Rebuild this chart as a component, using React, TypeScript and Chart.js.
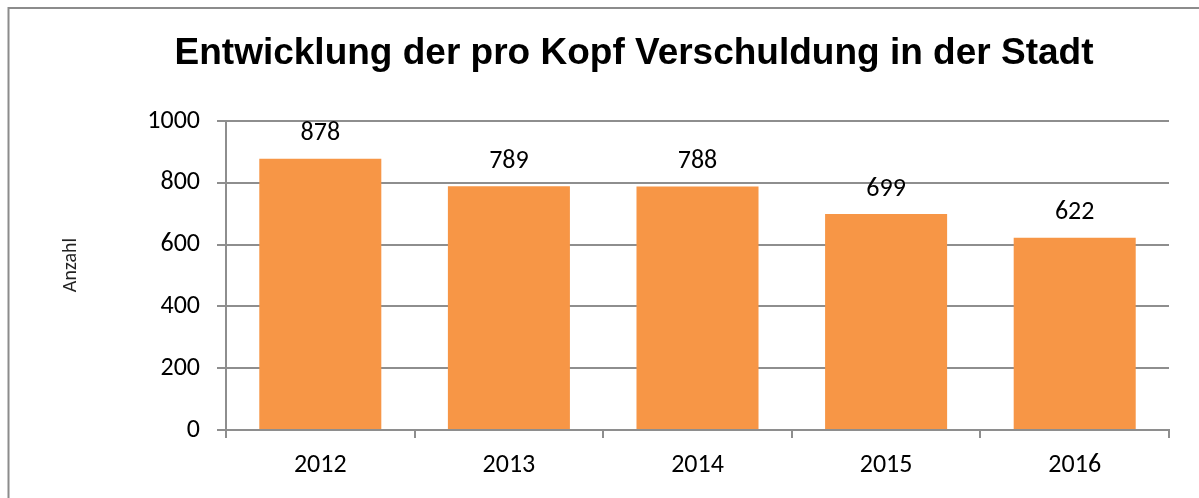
import React, { useEffect, useRef } from "react";
import { Chart, registerables } from "chart.js";

Chart.register(...registerables);

const TITLE = "Entwicklung der pro Kopf Verschuldung in der Stadt";
const Y_TITLE = "Anzahl";
const YEARS = ["2012", "2013", "2014", "2015", "2016"];
const DEBT = [878, 789, 788, 699, 622];
const Y_MIN = 0;
const Y_MAX = 1000;
const Y_STEP = 200;

const BAR_COLOR = "#F79646";
const GRID_COLOR = "#8e8e8e";
const LABEL_FONT = "Calibri, Carlito, 'Open Sans', sans-serif";

const framePlugin = {
  id: "frame",
  beforeDraw(chart: any) {
    const ctx = chart.ctx;
    ctx.save();
    ctx.fillStyle = "#ffffff";
    ctx.fillRect(0, 0, chart.width, chart.height);
    ctx.strokeStyle = "#8c8c8c";
    ctx.lineWidth = 2;
    ctx.strokeRect(8.5, 8, 1400, 800);
    ctx.restore();
  },
};

const textPlugin = {
  id: "texts",
  afterDraw(chart: any) {
    const ctx = chart.ctx;
    ctx.save();
    // title
    ctx.fillStyle = "#000000";
    ctx.font = "bold 37px 'Liberation Sans', Arial, sans-serif";
    ctx.textAlign = "center";
    ctx.textBaseline = "alphabetic";
    ctx.fillText(TITLE, 634, 64);
    // y axis title
    ctx.save();
    ctx.translate(71, 265);
    ctx.rotate(-Math.PI / 2);
    ctx.font = `20px ${LABEL_FONT}`;
    ctx.fillStyle = "#222222";
    ctx.textBaseline = "middle";
    ctx.fillText(Y_TITLE, 0, 0);
    ctx.restore();
    // data labels
    const meta = chart.getDatasetMeta(0);
    ctx.font = `26px ${LABEL_FONT}`;
    ctx.textBaseline = "middle";
    meta.data.forEach((bar: any, i: number) => {
      ctx.fillText(String(DEBT[i]), bar.x, bar.y - 25);
    });
    ctx.restore();
  },
};

export default function App() {
  const ref = useRef<HTMLCanvasElement>(null);
  useEffect(() => {
    if (!ref.current) return;
    const chart = new Chart(ref.current, {
      type: "bar",
      data: {
        labels: YEARS,
        datasets: [
          {
            data: DEBT,
            backgroundColor: BAR_COLOR,
            borderWidth: 0,
            categoryPercentage: 1,
            barPercentage: 0.647,
          },
        ],
      },
      options: {
        responsive: false,
        animation: false,
        layout: { padding: { left: 8, right: 30, top: 121, bottom: 0 } },
        plugins: {
          legend: { display: false },
          title: { display: false },
          tooltip: { enabled: false },
        },
        scales: {
          x: {
            grid: {
              offset: true,
              drawOnChartArea: false,
              drawTicks: true,
              tickLength: 8,
              color: GRID_COLOR,
              lineWidth: 2,
            },
            border: { color: GRID_COLOR, width: 2 },
            ticks: {
              color: "#000000",
              font: { family: LABEL_FONT, size: 26 },
              padding: 12,
              maxRotation: 0,
            },
            afterFit(scale: any) {
              scale.height = 68;
            },
          },
          y: {
            min: Y_MIN,
            max: Y_MAX,
            grid: {
              color: GRID_COLOR,
              lineWidth: 2,
              drawTicks: true,
              tickLength: 9,
            },
            border: { color: GRID_COLOR, width: 2 },
            ticks: {
              stepSize: Y_STEP,
              color: "#000000",
              font: { family: LABEL_FONT, size: 26 },
              padding: 17,
              callback: (v: any) => String(v),
            },
            afterFit(scale: any) {
              scale.width = 218;
            },
          },
        },
      },
      plugins: [framePlugin, textPlugin],
    });
    return () => chart.destroy();
  }, []);
  return (
    <canvas
      ref={ref}
      width={1199}
      height={498}
      style={{ position: "fixed", left: 0, top: 0, width: 1199, height: 498 }}
    />
  );
}
